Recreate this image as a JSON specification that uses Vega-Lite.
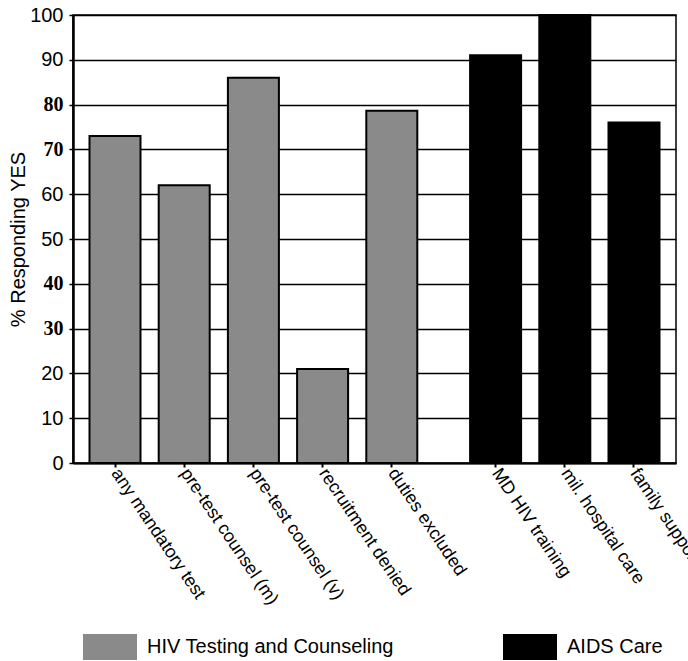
{
  "$schema": "https://vega.github.io/schema/vega-lite/v6.json",
  "autosize": {"type": "none"},
  "padding": {"left": 73, "top": 15, "right": 12, "bottom": 198},
  "width": 603,
  "height": 448,
  "background": "white",
  "config": {
    "view": {"stroke": "black", "strokeWidth": 1.5},
    "font": "Liberation Sans"
  },
  "data": {
    "values": [
      {"item": "any mandatory test", "group": "HIV Testing and Counseling", "value": 73},
      {"item": "pre-test counsel (m)", "group": "HIV Testing and Counseling", "value": 62},
      {"item": "pre-test counsel (v)", "group": "HIV Testing and Counseling", "value": 86},
      {"item": "recruitment denied", "group": "HIV Testing and Counseling", "value": 21},
      {"item": "duties excluded", "group": "HIV Testing and Counseling", "value": 78.6},
      {"item": "MD HIV training", "group": "AIDS Care", "value": 91},
      {"item": "mil. hospital care", "group": "AIDS Care", "value": 100},
      {"item": "family support", "group": "AIDS Care", "value": 76}
    ]
  },
  "mark": {"type": "bar", "width": 51, "stroke": "black", "strokeWidth": 2},
  "encoding": {
    "x": {
      "field": "item",
      "type": "nominal",
      "scale": {
        "domain": ["any mandatory test", "gap1", "pre-test counsel (m)", "gap2", "pre-test counsel (v)", "gap3", "recruitment denied", "gap4", "duties excluded", "gap5", "gap6", "MD HIV training", "gap7", "mil. hospital care", "gap8", "family support"],
        "paddingInner": 0,
        "paddingOuter": 0.714
      },
      "axis": {
        "title": null,
        "values": ["any mandatory test", "pre-test counsel (m)", "pre-test counsel (v)", "recruitment denied", "duties excluded", "MD HIV training", "mil. hospital care", "family support"],
        "labelAngle": 56,
        "labelFont": "Liberation Sans",
        "labelFontSize": 18,
        "labelColor": "black",
        "labelPadding": 3,
        "labelLimit": 400,
        "labelOverlap": false,
        "tickColor": "black",
        "tickSize": 4,
        "tickWidth": 2,
        "domainColor": "black",
        "domainWidth": 2,
        "grid": false
      }
    },
    "y": {
      "field": "value",
      "type": "quantitative",
      "scale": {"domain": [0, 100], "nice": false},
      "axis": {
        "title": "% Responding YES",
        "titleFont": "Liberation Sans",
        "titleFontSize": 20,
        "titleFontWeight": "normal",
        "titleColor": "black",
        "titlePadding": 1,
        "values": [0, 10, 20, 30, 40, 50, 60, 70, 80, 90, 100],
        "labelFont": {"condition": {"test": "datum.value == 80 || datum.value == 70 || datum.value == 40 || datum.value == 30", "value": "Liberation Serif"}, "value": "Liberation Sans"},
        "labelFontWeight": {"condition": {"test": "datum.value == 80 || datum.value == 70 || datum.value == 40 || datum.value == 30", "value": "bold"}, "value": "normal"},
        "labelFontSize": 20,
        "labelColor": "black",
        "labelPadding": 6,
        "tickColor": "black",
        "tickSize": 4,
        "tickWidth": 1.5,
        "domainColor": "black",
        "domainWidth": 2.5,
        "grid": true,
        "gridColor": "black",
        "gridWidth": 1.3,
        "gridOpacity": 1
      }
    },
    "color": {
      "field": "group",
      "type": "nominal",
      "scale": {"domain": ["HIV Testing and Counseling", "AIDS Care"], "range": ["#8a8a8a", "#000000"]},
      "legend": {
        "title": null,
        "orient": "none",
        "legendX": 10,
        "legendY": 605,
        "direction": "horizontal",
        "padding": 0,
        "symbolType": "M-1,-0.48H1V0.48H-1Z",
        "symbolSize": 2916,
        "symbolStrokeWidth": 0,
        "symbolOpacity": 1,
        "labelFont": "Liberation Sans",
        "labelFontSize": 20,
        "labelColor": "black",
        "labelOffset": 10,
        "labelLimit": 400,
        "columnPadding": 109
      }
    }
  }
}
